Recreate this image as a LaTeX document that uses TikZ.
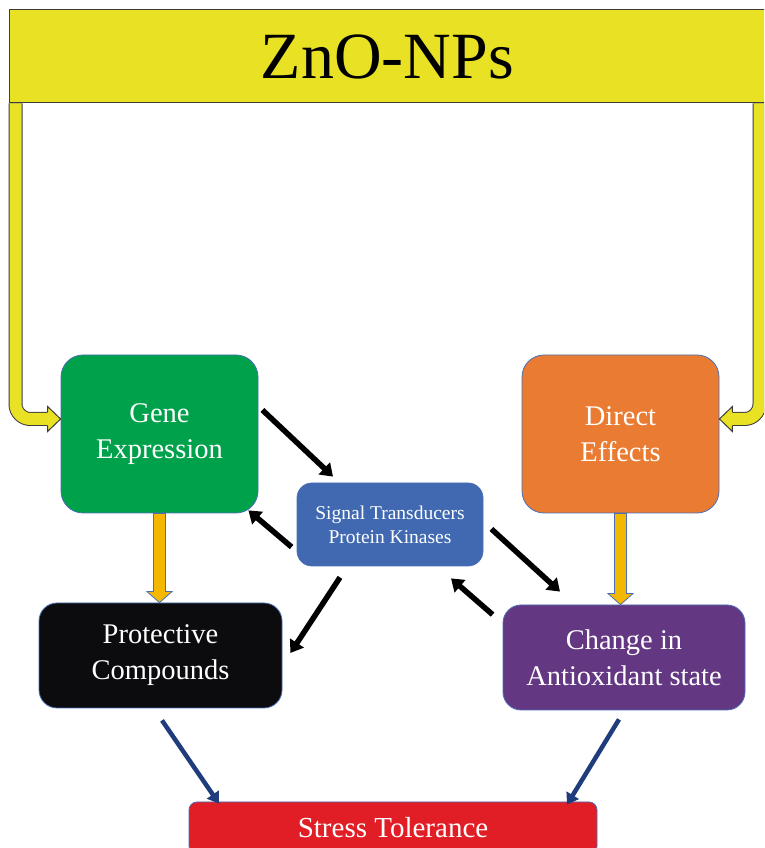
\documentclass[tikz,border=0pt]{standalone}
\usepackage{fontspec}
\setmainfont{Liberation Serif}
\usetikzlibrary{arrows.meta,calc}
\definecolor{ZnYellow}{HTML}{E9E124}
\definecolor{EdgeGray}{HTML}{3C3C3C}
\definecolor{GeneGreen}{HTML}{00A14B}
\definecolor{DirectOrange}{HTML}{E97B33}
\definecolor{SignalBlue}{HTML}{4069B1}
\definecolor{ProtBlack}{HTML}{0C0C0F}
\definecolor{ChangePurple}{HTML}{643783}
\definecolor{StressRed}{HTML}{E11E26}
\definecolor{GoldArrow}{HTML}{F5B800}
\definecolor{LinkBlue}{HTML}{1F3C7C}
\definecolor{BoxEdge}{HTML}{4A6FB5}
\newcommand\goldarrow[2]{\filldraw[goldarrow] ($(#1)+(-6,0)$) -- ($(#2)+(-6,11)$) -- ($(#2)+(-12.5,11)$) -- (#2) -- ($(#2)+(12.5,11)$) -- ($(#2)+(6,11)$) -- ($(#1)+(6,0)$) -- cycle;}

\begin{document}
\begin{tikzpicture}[x=1pt,y=1pt,line cap=butt,
  box/.style={rectangle,rounded corners=22pt,draw=BoxEdge,line width=.8pt,text=white,align=center,inner sep=0pt,font=\fontsize{28.5}{36}\selectfont},
  blackarrow/.style={line width=5.5pt,-{Triangle[length=12pt,width=16pt]}},
  bluearrow/.style={LinkBlue,line width=4.5pt,-{Triangle[length=11pt,width=14pt]}},
  feed/.style={draw=EdgeGray,line width=1pt,double=ZnYellow,double distance=12pt,rounded corners=15pt},
  feedhead/.style={fill=ZnYellow,draw=EdgeGray,line width=1pt,line join=miter},
  goldarrow/.style={fill=GoldArrow,draw=BoxEdge,line width=.8pt}]
  \useasboundingbox (0,0) rectangle (764,848); \clip (0,0) rectangle (764,848);
  \node[rectangle,fill=ZnYellow,draw=EdgeGray,line width=1pt,minimum width=757pt,minimum height=93pt,inner sep=0pt,font=\fontsize{66}{70}\selectfont] (znonp) at (387.5,791.5) {ZnO-NPs};
  \node[box,fill=GeneGreen,minimum width=197pt,minimum height=158pt] (gene) at (159.5,414) {Gene\\Expression};
  \node[box,fill=DirectOrange,minimum width=197pt,minimum height=158pt] (direct) at (620.5,414) {Direct\\Effects};
  \node[box,fill=SignalBlue,rounded corners=15pt,minimum width=186pt,minimum height=83pt,font=\fontsize{19.5}{24}\selectfont] (signal) at (390,323.5) {Signal Transducers\\Protein Kinases};
  \node[box,fill=ProtBlack,rounded corners=18pt,minimum width=243pt,minimum height=105pt] (protect) at (160.5,192.5) {Protective\\Compounds};
  \node[box,fill=ChangePurple,rounded corners=18pt,minimum width=242pt,minimum height=105pt] (change) at (624,190.5) {Change in\\Antioxidant state};
  \node[box,fill=StressRed,rounded corners=8pt,minimum width=408pt,minimum height=52pt,font=\fontsize{29}{36}\selectfont] (stress) at (393,20) {Stress Tolerance};
  % feeds from the bar
  \coordinate (genein) at ([yshift=15pt]gene.west); \coordinate (directin) at ([yshift=15pt]direct.east);
  \draw[feed] ([xshift=7pt]znonp.south west) |- ($(genein)+(-12,0)$);
  \filldraw[feedhead] ($(genein)+(-13,7)$) -- ($(genein)+(-13,12.5)$) -- (genein) -- ($(genein)+(-13,-12.5)$) -- ($(genein)+(-13,-7)$);
  \draw[feed] ([xshift=-7pt]znonp.south east) |- ($(directin)+(12,0)$);
  \filldraw[feedhead] ($(directin)+(13,7)$) -- ($(directin)+(13,12.5)$) -- (directin) -- ($(directin)+(13,-12.5)$) -- ($(directin)+(13,-7)$);
  \coordinate (geneout) at (gene.south |- protect.north); \coordinate (directout) at (direct.south |- change.north);
  \goldarrow{gene.south}{geneout} \goldarrow{direct.south}{directout}
  \draw[blackarrow] ([shift={(4,24)}]gene.east) -- ([shift={(-57,6)}]signal.north);
  \draw[blackarrow] ([shift={(-5,-22.5)}]signal.west) -- ([shift={(-10,3)}]gene.south east);
  \draw[blackarrow] ([shift={(-50,-11)}]signal.south) -- ([shift={(8,2.5)}]protect.east);
  \draw[blackarrow] ([shift={(8,-4.5)}]signal.east) -- ([shift={(-64,13)}]change.north);
  \draw[blackarrow] ([shift={(-10,-10)}]change.north west) -- ([shift={(61,-12)}]signal.south);
  \draw[bluearrow] ([shift={(1.5,-12)}]protect.south) -- ([shift={(-174,-2)}]stress.north);
  \draw[bluearrow] ([shift={(-5,-9)}]change.south) -- ([shift={(174,-3)}]stress.north);
\end{tikzpicture}
\end{document}
